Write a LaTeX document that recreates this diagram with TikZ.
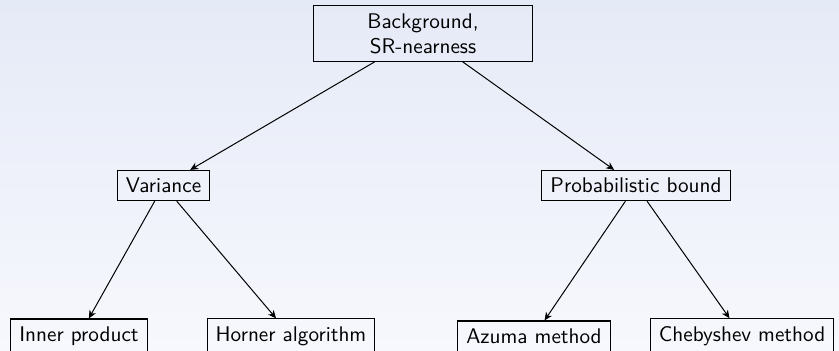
\documentclass[tikz,border=0pt]{standalone}
\usepackage{xcolor}
\usepackage{tikz}
\usetikzlibrary{arrows.meta}

\definecolor{slidetop}{RGB}{229,234,247}
\definecolor{slidebot}{RGB}{247,248,253}

\begin{document}
\begin{tikzpicture}[
x=1cm,
y=1cm,
every node/.style={font=\fontsize{10.6}{12.4}\selectfont\sffamily},
rbox/.style={rectangle,draw,line width=0.55pt,fill=none,align=center,inner xsep=4.3pt,inner ysep=3.8pt},
rhead/.style={rbox,text width=3.55cm},
redge/.style={-{Stealth[length=4pt,width=3.6pt,inset=1.2pt]},line width=0.5pt}
]
% slide background
\shade[top color=slidetop,bottom color=slidebot] (0,0) rectangle (14.744,-6.168);
\useasboundingbox (0,0) rectangle (14.744,-6.168);

\node[rhead] (bg) at (7.434,-0.589) {Background,\\SR-nearness};

\node[rbox] (var) at (2.873,-3.260) {Variance};
\node[rbox] (prob) at (11.177,-3.260) {Probabilistic bound};

\node[rbox] (inner) at (1.388,-5.905) {Inner product};
\node[rbox] (horner) at (5.114,-5.905) {Horner algorithm};
\node[rbox] (azuma) at (9.384,-5.905) {Azuma method};
\node[rbox] (cheb) at (13.040,-5.905) {Chebyshev method};

\draw[redge] (bg) -- (var);
\draw[redge] (bg) -- (prob);
\draw[redge] (var) -- (inner);
\draw[redge] (var) -- (horner);
\draw[redge] (prob) -- (azuma);
\draw[redge] (prob) -- (cheb);
\end{tikzpicture}
\end{document}
